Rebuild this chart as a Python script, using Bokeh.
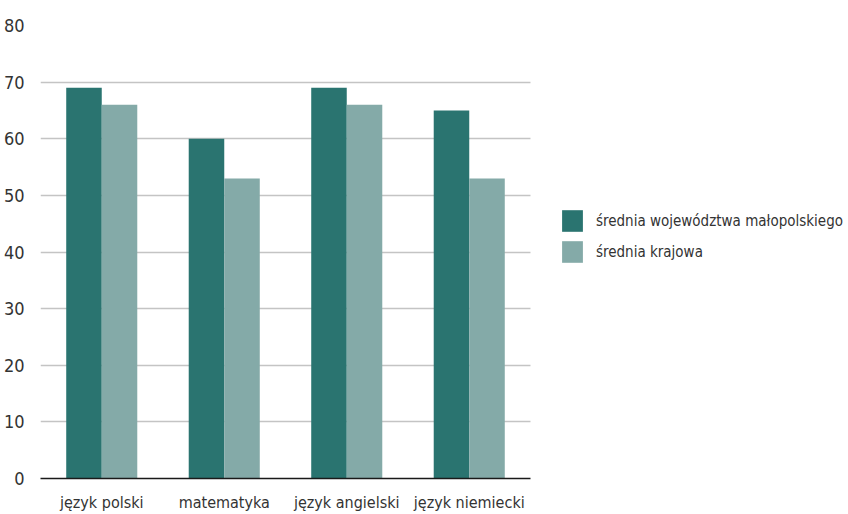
from bokeh.plotting import figure
from bokeh.models import ColumnDataSource, Range1d, Legend, LegendItem, SingleIntervalTicker, FixedTicker
from bokeh.embed import file_html
from bokeh.resources import INLINE

subjects = ["język polski", "matematyka", "język angielski", "język niemiecki"]
srednia_malopolska = [69, 60, 69, 65]
srednia_krajowa = [66, 53, 66, 53]
series_names = ["średnia województwa małopolskiego", "średnia krajowa"]
colors = ["#2a7470", "#84aaa8"]

FONT = "DejaVu Sans Condensed"
BAR_W = 0.29
n = len(subjects)
centers = [i + 0.5 for i in range(n)]

src = ColumnDataSource(dict(
    xa=[c - BAR_W / 2 for c in centers], xb=[c + BAR_W / 2 for c in centers],
    a=srednia_malopolska, b=srednia_krajowa))

W, H = 848, 514
ML, MT, MB = 40, 25, 26
frame_w = W - ML
cat_px = 122.5
p = figure(x_range=Range1d(0, frame_w / cat_px), y_range=Range1d(0, 80),
           width=W, height=H, output_backend="svg", toolbar_location=None,
           min_border_left=ML, min_border_right=0, min_border_top=MT, min_border_bottom=MB)
p.outline_line_color = None

r1 = p.vbar(x="xa", top="a", width=BAR_W, source=src, fill_color=colors[0], line_color=None)
r2 = p.vbar(x="xb", top="b", width=BAR_W, source=src, fill_color=colors[1], line_color=None)

p.xgrid.grid_line_color = None
p.ygrid.grid_line_color = "#c4c4c4"
p.ygrid.grid_line_width = 1.5
p.ygrid.cross_bounds = (0, n)
p.yaxis.ticker = SingleIntervalTicker(interval=10)
p.yaxis.axis_line_color = None
p.yaxis.major_tick_line_color = None
p.yaxis.minor_tick_line_color = None
p.yaxis.major_label_standoff = 10
p.yaxis.major_label_text_font_size = "18px"
p.xaxis.ticker = FixedTicker(ticks=centers)
p.xaxis.major_label_overrides = {c: s for c, s in zip(centers, subjects)}
p.xaxis.bounds = (0, n)
p.xaxis.axis_line_color = "#1a1a1a"
p.xaxis.axis_line_width = 1.5
p.xaxis.major_tick_line_color = None
p.xaxis.minor_tick_line_color = None
p.xaxis.major_label_standoff = 8
p.xaxis.major_label_text_font_size = "16px"
for ax in (p.xaxis[0], p.yaxis[0]):
    ax.major_label_text_font = FONT
    ax.major_label_text_color = "#333333"

legend = Legend(items=[LegendItem(label=series_names[0], renderers=[r1]),
                       LegendItem(label=series_names[1], renderers=[r2])],
                location=(519, 213), padding=0, margin=0, border_line_color=None,
                background_fill_alpha=0, glyph_width=26, glyph_height=27,
                label_standoff=11, spacing=4, label_text_font=FONT,
                label_text_font_size="15px", label_text_color="#333333",
                label_height=27)
p.add_layout(legend, "center")

open("out.html", "w").write(file_html(p, INLINE))
